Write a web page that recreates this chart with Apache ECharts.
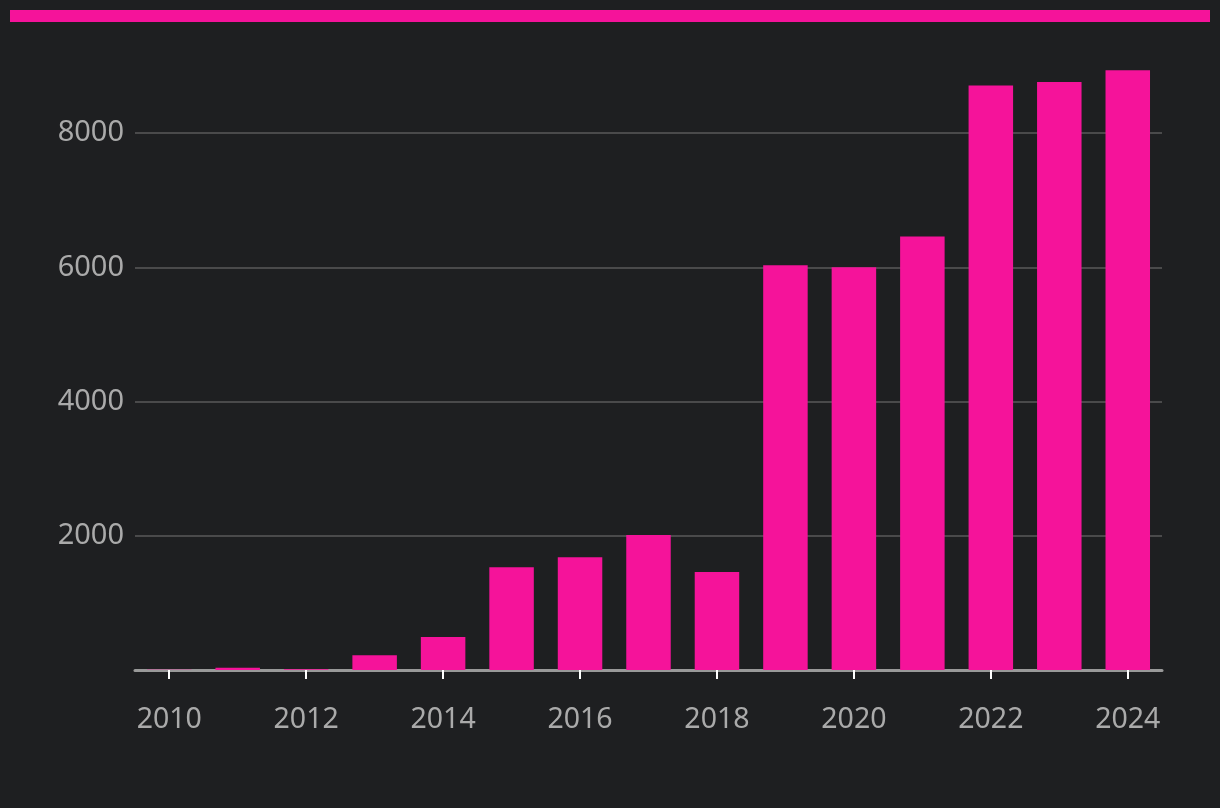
<!DOCTYPE html>
<html>
<head>
<meta charset="utf-8">
<script src="https://cdn.jsdelivr.net/npm/echarts@6/dist/echarts.min.js"></script>
<style>
html,body{margin:0;padding:0;background:#1e1f21;}
#chart{width:1220px;height:808px;}
</style>
</head>
<body>
<div id="chart"></div>
<script>
const years = ['2010','2011','2012','2013','2014','2015','2016','2017','2018','2019','2020','2021','2022','2023','2024'];
const values = [5, 35, 10, 220, 490, 1530, 1680, 2010, 1460, 6030, 6000, 6460, 8710, 8760, 8935];
const yTicks = [0, 2000, 4000, 6000, 8000];

const chart = echarts.init(document.getElementById('chart'), null, {renderer:'canvas'});
chart.setOption({
  backgroundColor: '#1e1f21',
  animation: false,
  graphic: [{
    type: 'rect',
    shape: {x: 10, y: 10, width: 1200, height: 12},
    style: {fill: '#f5139a'}
  }],
  grid: {left: 135, right: 58, top: 66, bottom: 138, containLabel: false},
  xAxis: {
    type: 'category',
    data: years,
    axisLine: {lineStyle: {color: '#999999', width: 3}},
    axisTick: {show: true, alignWithLabel: true, interval: 1, length: 9, lineStyle: {color: '#ffffff', width: 2}},
    axisLabel: {interval: 1, color: '#aaaaaa', fontSize: 28.5, fontFamily: 'Noto Sans', margin: 35},
    splitLine: {show: false}
  },
  yAxis: {
    type: 'value',
    min: 0,
    max: 9000,
    interval: 2000,
    axisLine: {show: false},
    axisTick: {show: false},
    axisLabel: {
      color: '#aaaaaa', fontSize: 29, fontFamily: 'Noto Sans', margin: 11,
      formatter: function (v) { return (v === 0 || yTicks.indexOf(v) < 0) ? '' : String(v); }
    },
    splitLine: {showMaxLine: false, showMinLine: false, lineStyle: {color: '#5a5a5a', width: 1.5}}
  },
  series: [{
    type: 'bar',
    data: values,
    barWidth: '65%',
    itemStyle: {color: '#f5139a'},
    z: 3
  }]
});
</script>
</body>
</html>
